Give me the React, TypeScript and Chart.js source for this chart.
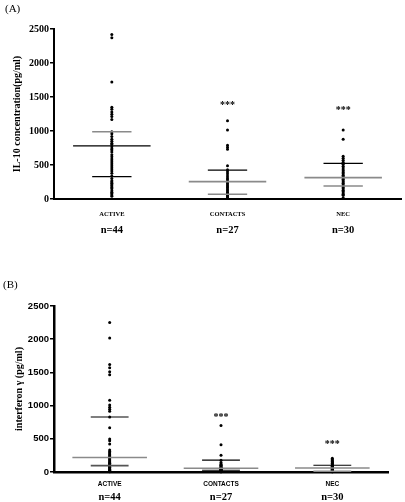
import React, { useEffect, useRef } from "react";
import { Chart, registerables } from "chart.js";

Chart.register(...registerables);

// ---------- data ----------
const groups = ["ACTIVE", "CONTACTS", "NEC"];
const groupN = ["n=44", "n=27", "n=30"];
const yTicks = [0, 500, 1000, 1500, 2000, 2500];
const stars = ["", "***", "***"];

// Panel A: IL-10 (pg/ml)
const il10Active = [
  2420, 2370, 1720, 1350, 1320, 1280, 1245, 1215, 1170,
  990, 960, 920, 880, 850, 820, 800, 770, 740, 720, 690, 650, 620, 590, 560,
  530, 500, 470, 440, 410, 380, 340, 300, 270, 250, 230, 210, 190, 170, 150,
  120, 100, 80, 60, 40,
];
const il10Contacts = [
  1151, 1015, 790, 760, 730, 490, 430, 400, 370, 340, 310, 285, 260, 240,
  220, 200, 180, 160, 140, 120, 100, 85, 70, 55, 40, 25, 10,
];
const il10Nec = [
  1015, 877, 630, 600, 570, 540, 510, 480, 455, 430, 410, 390, 370, 350, 330,
  310, 290, 270, 250, 230, 210, 190, 170, 150, 130, 110, 90, 70, 55, 20,
];
const il10Center = [780, 255, 314];
const il10Upper = [990, 426, 525];
const il10Lower = [328, 69, 191];

// Panel B: interferon gamma (pg/ml)
const ifnActive = [
  2251, 2017, 1620, 1570, 1510, 1465, 1082, 1010, 975, 945, 915, 828, 666,
  498, 472, 422, 330, 310, 290, 270, 255, 240, 225, 210, 195, 180, 165, 150,
  140, 130, 120, 110, 100, 90, 80, 70, 60, 50, 40, 30, 25, 20, 10, 5,
];
const ifnContacts = [
  701, 411, 254, 178, 142, 120, 110, 100, 90, 80, 70, 65, 60, 55, 50, 45, 40,
  35, 30, 25, 20, 15, 12, 10, 8, 5, 2,
];
const ifnNec = [
  208, 190, 175, 160, 150, 140, 130, 120, 110, 100, 95, 90, 85, 80, 75, 70,
  65, 60, 55, 50, 45, 40, 35, 30, 25, 20, 15, 10, 5, 2,
];
const ifnCenter = [218, 56, 61];
const ifnUpper = [828, 178, 102];
const ifnLower = [96, 26, 12];

// ---------- styles ----------
const SERIF = '"Liberation Serif", "Times New Roman", serif';
const SANS = '"Liberation Sans", Arial, sans-serif';
const GRAY = "#8a8a8a";
const BLACK = "#000000";

interface PanelCfg {
  values: number[][];
  center: number[];
  upper: number[];
  lower: number[];
  centerColors: string[];
  upperColors: string[];
  lowerColors: string[];
  yTitle: string;
  titlePad: number;
  tickFamily: string;
  tickSize: number;
  groupFamily: string;
  padTop: number;
  padRight: number;
  xHeight: number;
  axisWidth: number;
  groupDy: number;
  nDy: number;
  starOffset: number[];
}

function buildConfig(cfg: PanelCfg): any {
  const LONG = 0.335;
  const SHORT = 0.17;
  const datasets: any[] = [];
  const statSets: [number[], string[], number][] = [
    [cfg.upper, cfg.upperColors, SHORT],
    [cfg.center, cfg.centerColors, LONG],
    [cfg.lower, cfg.lowerColors, SHORT],
  ];
  statSets.forEach(([vals, cols, half]) => {
    vals.forEach((v, i) => {
      datasets.push({
        type: "line",
        data: [
          { x: i - half, y: v },
          { x: i + half, y: v },
        ],
        borderColor: cols[i],
        borderWidth: cols[i] === BLACK ? 1.2 : 1.6,
        pointRadius: 0,
        showLine: true,
        fill: false,
        clip: false,
      });
    });
  });
  cfg.values.forEach((vals, i) => {
    datasets.push({
      type: "scatter",
      data: vals.map((v) => ({ x: i, y: v })),
      pointRadius: 1.5,
      pointBackgroundColor: BLACK,
      pointBorderWidth: 0,
      backgroundColor: BLACK,
      borderColor: BLACK,
      clip: false,
    });
  });

  const labelsPlugin = {
    id: "groupLabels",
    afterDraw(chart: any) {
      const { ctx, chartArea, scales } = chart;
      ctx.save();
      ctx.fillStyle = BLACK;
      ctx.textAlign = "center";
      groups.forEach((g, i) => {
        const x = scales.x.getPixelForValue(i);
        ctx.textBaseline = "middle";
        ctx.font = `bold 6.5px ${cfg.groupFamily}`;
        ctx.fillText(g, x, chartArea.bottom + cfg.groupDy);
        ctx.font = `bold 10.5px ${SERIF}`;
        ctx.fillText(groupN[i], x, chartArea.bottom + cfg.nDy);
        if (stars[i]) {
          const top = Math.max(...cfg.values[i]);
          const y = scales.y.getPixelForValue(top) - cfg.starOffset[i];
          ctx.textBaseline = "alphabetic";
          ctx.font = `bold 10px ${SERIF}`;
          ctx.fillText(stars[i], x, y + 5);
        }
      });
      ctx.restore();
    },
  };

  return {
    type: "scatter",
    data: { datasets },
    plugins: [labelsPlugin],
    options: {
      animation: false,
      responsive: false,
      devicePixelRatio: 1,
      events: [],
      layout: {
        padding: { top: cfg.padTop, right: cfg.padRight, left: 0, bottom: 0 },
      },
      plugins: {
        legend: { display: false },
        tooltip: { enabled: false },
        title: { display: false },
      },
      scales: {
        x: {
          type: "linear",
          min: -0.5,
          max: 2.5,
          ticks: { display: false },
          grid: { display: false },
          border: { display: true, color: BLACK, width: cfg.axisWidth },
          afterFit: (s: any) => {
            s.height = cfg.xHeight;
          },
        },
        y: {
          type: "linear",
          min: 0,
          max: 2500,
          afterBuildTicks: (s: any) => {
            s.ticks = yTicks.map((v) => ({ value: v }));
          },
          afterFit: (s: any) => {
            s.width = 54;
          },
          ticks: {
            color: BLACK,
            padding: 1,
            font: { family: cfg.tickFamily, size: cfg.tickSize, weight: "bold" },
            callback: (v: any) => String(v),
          },
          grid: {
            display: true,
            drawOnChartArea: false,
            drawTicks: true,
            tickLength: 4,
            color: BLACK,
            lineWidth: 1.5,
          },
          border: { display: true, color: BLACK, width: cfg.axisWidth },
          title: {
            display: true,
            text: cfg.yTitle,
            color: BLACK,
            font: { family: SERIF, size: 10, weight: "bold" },
            padding: { top: cfg.titlePad, bottom: 0 },
          },
        },
      },
    },
  };
}

const panelA: PanelCfg = {
  values: [il10Active, il10Contacts, il10Nec],
  center: il10Center,
  upper: il10Upper,
  lower: il10Lower,
  centerColors: [BLACK, GRAY, GRAY],
  upperColors: [GRAY, BLACK, BLACK],
  lowerColors: [BLACK, GRAY, GRAY],
  yTitle: "IL-10 concentration(pg/ml)",
  titlePad: 11,
  tickFamily: SERIF,
  tickSize: 10,
  groupFamily: SERIF,
  padTop: 29,
  padRight: 3,
  xHeight: 51,
  axisWidth: 2,
  groupDy: 15,
  nDy: 31,
  starOffset: [0, 18, 22],
};

const panelB: PanelCfg = {
  values: [ifnActive, ifnContacts, ifnNec],
  center: ifnCenter,
  upper: ifnUpper,
  lower: ifnLower,
  centerColors: [GRAY, GRAY, GRAY],
  upperColors: [BLACK, BLACK, BLACK],
  lowerColors: ["#555555", BLACK, GRAY],
  yTitle: "interferon \u03b3 (pg/ml)",
  titlePad: 13,
  tickFamily: SANS,
  tickSize: 9.5,
  groupFamily: SANS,
  padTop: 56,
  padRight: 17,
  xHeight: 30,
  axisWidth: 2.5,
  groupDy: 12.5,
  nDy: 25.5,
  starOffset: [0, 10, 16],
};

function Panel({ top, height, cfg }: { top: number; height: number; cfg: PanelCfg }) {
  const ref = useRef<HTMLCanvasElement>(null);
  useEffect(() => {
    const chart = new Chart(ref.current as HTMLCanvasElement, buildConfig(cfg));
    return () => chart.destroy();
  }, [cfg]);
  return (
    <canvas
      ref={ref}
      width={405}
      height={height}
      style={{ position: "absolute", left: 0, top, width: 405, height, display: "block" }}
    />
  );
}

export default function App() {
  const labelStyle: React.CSSProperties = {
    position: "absolute",
    fontFamily: SERIF,
    fontSize: 11,
    color: "#000",
    lineHeight: "12px",
  };
  return (
    <div
      style={{
        position: "absolute",
        left: 0,
        top: 0,
        width: 405,
        height: 502,
        background: "#fff",
        overflow: "hidden",
      }}
    >
      <Panel top={0} height={250} cfg={panelA} />
      <Panel top={250} height={252} cfg={panelB} />
      <div style={{ ...labelStyle, left: 5, top: 2 }}>(A)</div>
      <div style={{ ...labelStyle, left: 3, top: 278 }}>(B)</div>
    </div>
  );
}
